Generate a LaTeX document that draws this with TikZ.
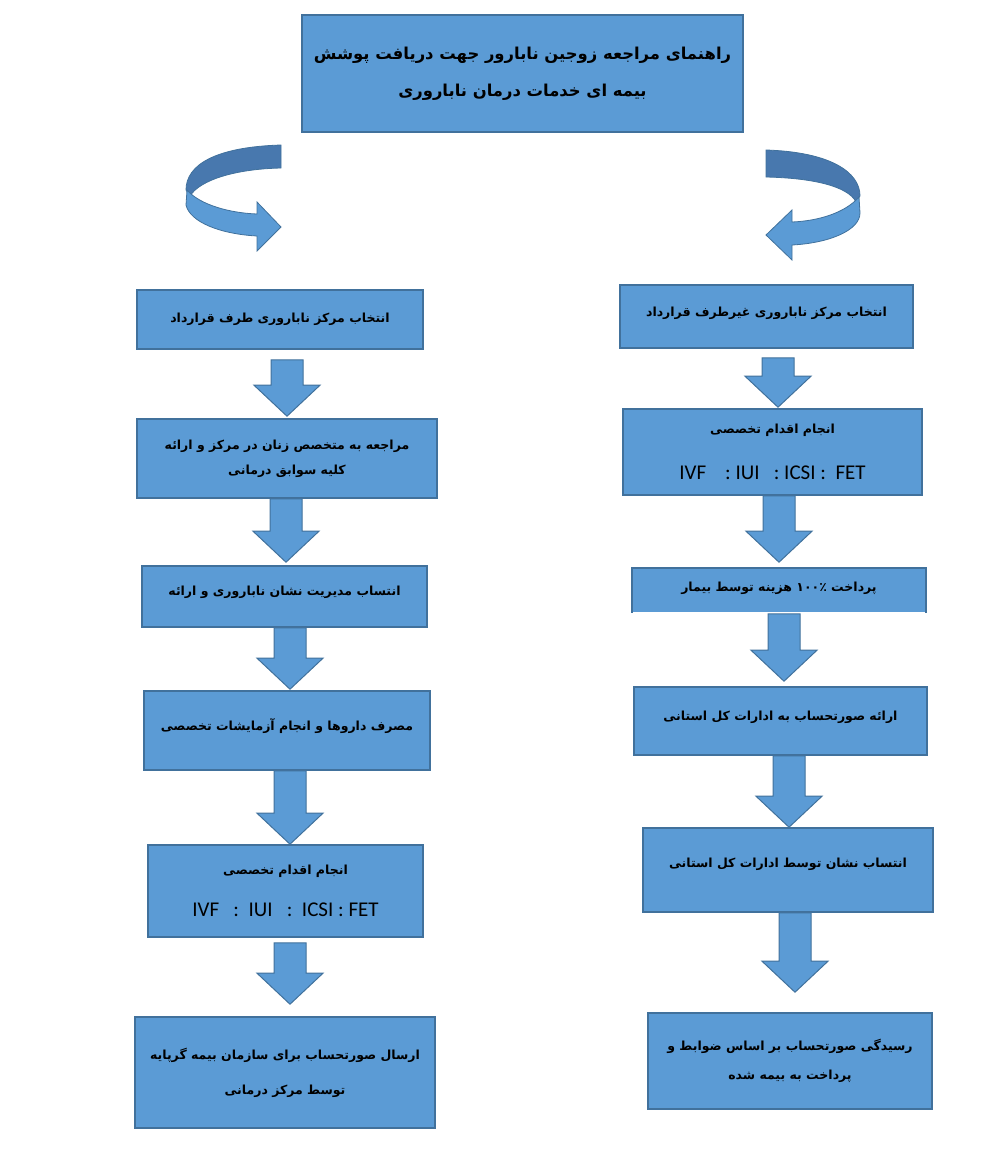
\documentclass[tikz,border=0pt]{standalone}
\usepackage{fontspec}
\setmainfont{Carlito}
\newfontfamily\fa[Script=Arabic]{DejaVu Sans}
\TeXXeTstate=1
\usetikzlibrary{calc}
\definecolor{boxfill}{HTML}{5B9BD5}
\definecolor{boxline}{HTML}{41719C}
\definecolor{ribbonback}{HTML}{4878AE}
\tikzset{
  box/.style={draw=boxline, fill=boxfill, line width=1.6pt, align=center, inner sep=2pt},
  blockarrow/.style={draw=boxline, fill=boxfill, line width=1pt},
  fatxt/.style={font=\fa\bfseries\fontsize{12.5}{15}\selectfont},
  latxt/.style={font=\fontsize{21}{23}\selectfont}
}
% x, from, to, gap below from, gap above to
\newcommand{\flowarrow}[5]{%
  \draw[blockarrow] let \p1=({#1},0 |- #2.south), \p2=({#1},0 |- #3.north) in
    (\x1-16pt,\y1-#4pt) -- (\x1+16pt,\y1-#4pt) -- (\x1+16pt,\y2+#5pt+31pt)
    -- (\x1+33pt,\y2+#5pt+31pt) -- (\x1,\y2+#5pt) -- (\x1-33pt,\y2+#5pt+31pt)
    -- (\x1-16pt,\y2+#5pt+31pt) -- cycle;}
\newcommand{\fatext}{\fa\bfseries\fontsize{12.5}{15}\selectfont}
\begin{document}
\begin{tikzpicture}[x=1pt,y=-1pt]
\useasboundingbox (0,0) rectangle (1002,1168);
% title
\node[box, minimum width=441, minimum height=117, font=\fa\bfseries\fontsize{16.4}{19}\selectfont] (title) at (522.5,73.5)
  {\beginR راهنمای مراجعه زوجین نابارور جهت دریافت پوشش\endR\\[18pt]\beginR بیمه ای خدمات درمان ناباروری\endR};
% curved arrows
\fill[ribbonback, draw=boxline, line width=0.8pt] (281,145) .. controls (215,147) and (186,165) .. (186,190)
  -- (190,196) .. controls (200,180) and (235,169) .. (281,168) -- cycle;
\fill[boxfill, draw=boxline, line width=0.8pt] (187,190) .. controls (200,205) and (230,213) .. (257,214)
  -- (257,202) -- (281,227) -- (257,251) -- (257,236) .. controls (220,234) and (190,222) .. (186,205) -- cycle;
\fill[ribbonback, draw=boxline, line width=0.8pt] (766,150) .. controls (830,152) and (860,172) .. (860,196)
  -- (856,202) .. controls (848,186) and (812,178) .. (766,177) -- cycle;
\fill[boxfill, draw=boxline, line width=0.8pt] (859,197) .. controls (845,213) and (818,221) .. (792,222)
  -- (792,210) -- (766,235) -- (792,260) -- (792,245) .. controls (830,243) and (860,230) .. (860,213) -- cycle;
% left column
\node[box, fatxt, minimum width=286, minimum height=59] (l1) at (280,319.5)
  {\beginR انتخاب مرکز ناباروری طرف قرارداد\endR};
\node[box, fatxt, minimum width=300, minimum height=79] (l2) at (287,458.5)
  {\beginR مراجعه به متخصص زنان در مرکز و ارائه\endR\\[10pt]\beginR کلیه سوابق درمانی\endR};
\node[box, fatxt, minimum width=285, minimum height=61, text depth=12pt] (l3) at (284.5,596.5)
  {\beginR انتساب مدیریت نشان ناباروری و ارائه\endR};
\node[box, fatxt, minimum width=286, minimum height=79, text depth=12pt] (l4) at (287,730.5)
  {\beginR مصرف داروها و انجام آزمایشات تخصصی\endR};
\node[box, minimum width=275, minimum height=92] (l5) at (285.5,891)
  {{\fatext\beginR انجام اقدام تخصصی\endR}\\[24pt]
   {\fontsize{21}{23}\selectfont IVF\ \ \ :\ \ IUI\ \ \ :\ \ ICSI : FET}};
\node[box, fatxt, minimum width=300, minimum height=111] (l6) at (285,1072.5)
  {\beginR ارسال صورتحساب برای سازمان بیمه گرپایه\endR\\[20pt]\beginR توسط مرکز درمانی\endR};
% right column
\node[box, fatxt, minimum width=293, minimum height=63, text depth=10pt] (r1) at (766.5,316.5)
  {\beginR انتخاب مرکز ناباروری غیرطرف قرارداد\endR};
\node[box, minimum width=299, minimum height=86] (r2) at (772.5,452)
  {{\fatext\beginR انجام اقدام تخصصی\endR}\\[28pt]
   {\fontsize{21}{23}\selectfont IVF\ \ \ \ : IUI\ \ \ : ICSI :\ \ FET}};
\node[box, fatxt, draw=none, minimum width=292, minimum height=43, text depth=8pt] (r3) at (779,590.5)
  {\beginR پرداخت ۱۰۰٪ هزینه توسط بیمار\endR};
\draw[boxline, line width=1.6pt] (r3.south west) -- (r3.north west) -- (r3.north east) -- (r3.south east);
\node[box, fatxt, minimum width=293, minimum height=68, text depth=10pt] (r4) at (780.5,721)
  {\beginR ارائه صورتحساب به ادارات کل استانی\endR};
\node[box, fatxt, minimum width=290, minimum height=84, text depth=14pt] (r5) at (788,870)
  {\beginR انتساب نشان توسط ادارات کل استانی\endR};
\node[box, fatxt, minimum width=284, minimum height=96] (r6) at (790,1061)
  {\beginR رسیدگی صورتحساب بر اساس ضوابط و\endR\\[14pt]\beginR پرداخت به بیمه شده\endR};
% block arrows
\flowarrow{287}{l1}{l2}{10}{2}
\flowarrow{286}{l2}{l3}{0}{3}
\flowarrow{290}{l3}{l4}{0}{1}
\flowarrow{290}{l4}{l5}{0}{0}
\flowarrow{290}{l5}{l6}{5}{12}
\flowarrow{778}{r1}{r2}{9}{1}
\flowarrow{779}{r2}{r3}{0}{6}
\flowarrow{784}{r3}{r4}{1}{5}
\flowarrow{789}{r4}{r5}{0}{0}
\flowarrow{795}{r5}{r6}{0}{20}
\end{tikzpicture}
\end{document}
